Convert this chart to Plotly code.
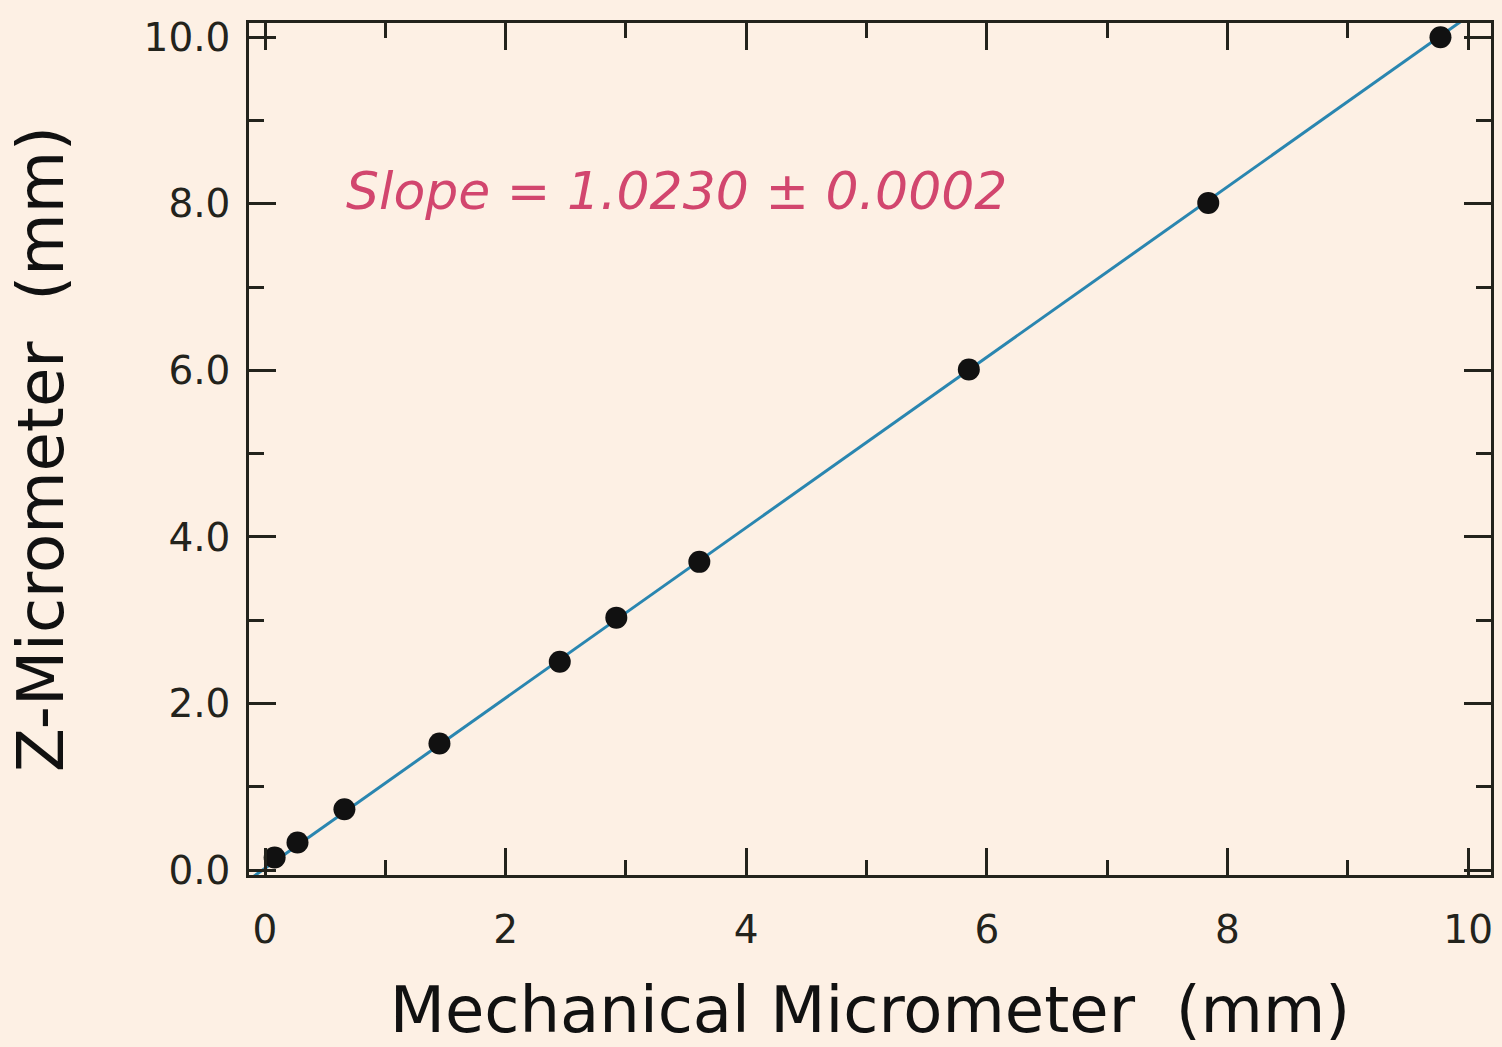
import plotly.graph_objects as go

# Calibration readings (mm)
mech_mm = [0.08, 0.27, 0.66, 1.45, 2.45, 2.92, 3.61, 5.85, 7.84, 9.77]
z_mm = [0.15, 0.33, 0.73, 1.52, 2.50, 3.03, 3.70, 6.01, 8.01, 10.00]

# Fitted straight line
slope = 1.0230
slope_err = 0.0002
intercept = 0.02
fit_x = [-0.2, 10.3]
fit_y = [slope * v + intercept for v in fit_x]

x_ticks = [0, 2, 4, 6, 8, 10]
y_ticks = [0.0, 2.0, 4.0, 6.0, 8.0, 10.0]
y_tick_text = ["0.0", "2.0", "4.0", "6.0", "8.0", "10.0"]

bg = "#fdf0e4"
ink = "#23231c"

fig = go.Figure()
fig.add_trace(go.Scatter(x=fit_x, y=fit_y, mode="lines",
                         line=dict(color="#2a86b0", width=3), showlegend=False))
fig.add_trace(go.Scatter(x=mech_mm, y=z_mm, mode="markers",
                         marker=dict(color="#111111", size=22), showlegend=False))

fig.add_annotation(x=0.66, y=8.15, xref="x", yref="y", xanchor="left", yanchor="middle",
                   text=f"Slope = {slope:.4f} ± {slope_err:.4f}", showarrow=False,
                   font=dict(family="DejaVu Sans", size=52, color="#d2466e",
                             style="italic", weight=200))

axis_common = dict(
    showgrid=False, zeroline=False, showline=True, linecolor=ink, linewidth=2.5,
    mirror="ticks", ticks="inside", ticklen=27, tickwidth=2.5, tickcolor=ink,
    tickfont=dict(family="DejaVu Sans", size=39, color=ink),
)

fig.update_xaxes(
    **axis_common, range=[-0.133, 10.19], tickvals=x_ticks,
    ticktext=[str(v) for v in x_ticks], ticklabelstandoff=18,
    minor=dict(dtick=1, tick0=0, ticks="inside", ticklen=15, tickwidth=2.5, tickcolor=ink),
    title=dict(text="Mechanical Micrometer  (mm)", standoff=38,
               font=dict(family="DejaVu Sans", size=64, color="#111111")),
)
fig.update_yaxes(
    **axis_common, range=[-0.06, 10.17], tickvals=y_ticks, ticktext=y_tick_text,
    ticklabelstandoff=8,
    minor=dict(dtick=1, tick0=0, ticks="inside", ticklen=15, tickwidth=2.5, tickcolor=ink),
    title=dict(text="Z-Micrometer  (mm)", standoff=60,
               font=dict(family="DejaVu Sans", size=64, color="#111111")),
)

fig.update_layout(
    width=1502, height=1047,
    margin=dict(l=249, r=8, t=23, b=172),
    paper_bgcolor=bg, plot_bgcolor=bg,
)

fig.write_html("out.html")
